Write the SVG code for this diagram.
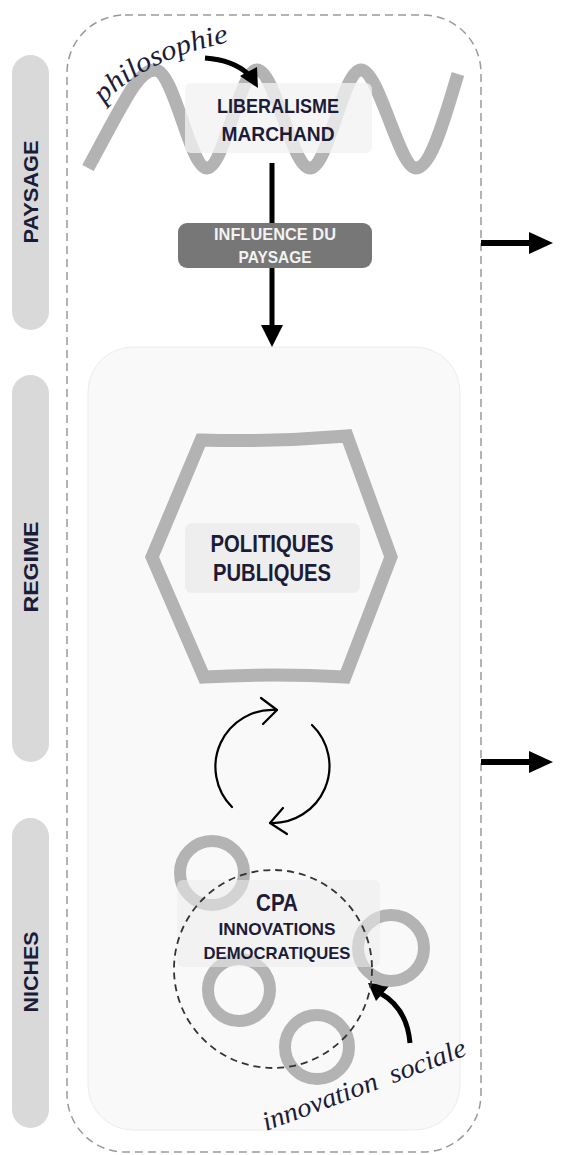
<svg xmlns="http://www.w3.org/2000/svg" width="577" height="1155" viewBox="0 0 577 1155">
<style>
.lbl{font-family:"Liberation Sans",Arial,sans-serif;font-weight:bold;fill:#1c1c38;text-anchor:middle}
.pill{fill:#d9d9d9}
.hand{font-family:"Liberation Serif","Times New Roman",serif;font-style:italic;fill:#1c1c38}
.gray{fill:none;stroke:#b3b3b3;stroke-width:13}
.ring{fill:none;stroke:#b3b3b3;stroke-width:12}
.thick{fill:none;stroke:#000;stroke-width:5}
.thin{fill:none;stroke:#000;stroke-width:2.2;stroke-linecap:round;stroke-linejoin:round}
</style>
<defs>
<path id="phPath" d="M104,104 Q146,56 242,40"/>
<path id="isPath" d="M266,1131 Q372,1092 488,1047"/>
</defs>
<rect width="577" height="1155" fill="#ffffff"/>
<g id="frame">
<rect x="67" y="15" width="414" height="1137" rx="58" fill="none" stroke="#9a9a9a" stroke-width="1.5" stroke-dasharray="8 5"/>
</g>
<g id="label-paysage">
<rect class="pill" x="12" y="55" width="37" height="275" rx="18.5"/>
<text class="lbl" transform="translate(38,192) rotate(-90)" font-size="21" textLength="103" lengthAdjust="spacingAndGlyphs">PAYSAGE</text>
</g>
<g id="label-regime">
<rect class="pill" x="12" y="375" width="37" height="387" rx="18.5"/>
<text class="lbl" transform="translate(38,567) rotate(-90)" font-size="21" textLength="91" lengthAdjust="spacingAndGlyphs">REGIME</text>
</g>
<g id="label-niches">
<rect class="pill" x="12" y="818" width="37" height="310" rx="18.5"/>
<text class="lbl" transform="translate(38,972) rotate(-90)" font-size="21" textLength="81" lengthAdjust="spacingAndGlyphs">NICHES</text>
</g>
<g id="regime-area">
<rect x="88" y="347" width="372" height="783" rx="45" fill="#f9f9f9" stroke="#ececec" stroke-width="1"/>
</g>
<g id="wave">
<path class="gray" d="M88,168 C125,100 138,70 155,70 C174,70 190,168 207,168 C224,168 240,70 257,70 C275,70 292,168 310,168 C328,168 343,70 361,70 C379,70 399,168 416,168 C432,168 446,112 458,74"/>
</g>
<g id="liberalisme">
<rect x="185" y="83" width="187" height="70" rx="6" fill="#f2f2f2" fill-opacity="0.78"/>
<text class="lbl" x="278" y="113" font-size="20" textLength="122" lengthAdjust="spacingAndGlyphs">LIBERALISME</text>
<text class="lbl" x="278" y="141" font-size="20" textLength="113" lengthAdjust="spacingAndGlyphs">MARCHAND</text>
</g>
<g id="philosophie">
<text class="hand" font-size="28"><textPath href="#phPath" textLength="142" lengthAdjust="spacingAndGlyphs">philosophie</textPath></text>
</g>
<g id="connectors">
<line x1="272" y1="163" x2="272" y2="328" stroke="#000" stroke-width="5"/>
<polygon points="261,325 283,325 272,347" fill="#000"/>
<path class="thick" d="M205,58 Q233,60 248,74"/>
<polygon points="240,76 257,67 258,88" fill="#000"/>
<path class="thick" d="M410,1043 Q407,1008 380,993"/>
<polygon points="368,983 390,985 376,1001" fill="#000"/>
<path class="thin" d="M232,807 A57,57 0 0 1 277,710"/>
<path class="thin" d="M261,698 L277,710 L263,724"/>
<path class="thin" d="M312,725 A57,57 0 0 1 270,823"/>
<path class="thin" d="M283,808 L270,823 L287,834"/>
<line x1="481" y1="243" x2="532" y2="243" stroke="#000" stroke-width="6"/>
<polygon points="529,232 553,243 529,254" fill="#000"/>
<line x1="481" y1="762" x2="532" y2="762" stroke="#000" stroke-width="6"/>
<polygon points="529,751 553,762 529,773" fill="#000"/>
</g>
<g id="influence">
<rect x="178" y="223" width="194" height="45" rx="9" fill="#777777"/>
<text class="lbl" x="275" y="240" font-size="16.5" style="fill:#f2f2f2" textLength="122" lengthAdjust="spacingAndGlyphs">INFLUENCE DU</text>
<text class="lbl" x="275" y="263" font-size="16.5" style="fill:#f2f2f2" textLength="73" lengthAdjust="spacingAndGlyphs">PAYSAGE</text>
</g>
<g id="politiques">
<path class="gray" stroke-linejoin="miter" d="M201,440 Q275,442 347,436 L391,557 L345,677 Q275,673 204,677 L152,557 Z"/>
<rect x="185" y="523" width="175" height="70" rx="7" fill="#eeeeee"/>
<text class="lbl" x="272" y="552" font-size="23" textLength="123" lengthAdjust="spacingAndGlyphs">POLITIQUES</text>
<text class="lbl" x="272" y="581" font-size="23" textLength="118" lengthAdjust="spacingAndGlyphs">PUBLIQUES</text>
</g>
<g id="niches">
<circle class="ring" cx="212" cy="873" r="32"/>
<circle class="ring" cx="239" cy="990" r="31"/>
<circle class="ring" cx="391" cy="948" r="33"/>
<circle class="ring" cx="317" cy="1047" r="32"/>
<rect x="177" y="880" width="203" height="87" rx="6" fill="#ececec" fill-opacity="0.55"/>
<circle cx="273" cy="969" r="99" fill="none" stroke="#333" stroke-width="1.8" stroke-dasharray="7 5"/>
<text class="lbl" x="277" y="911" font-size="23" font-weight="600" textLength="42" lengthAdjust="spacingAndGlyphs">CPA</text>
<text class="lbl" x="277" y="935" font-size="17" textLength="117" lengthAdjust="spacingAndGlyphs">INNOVATIONS</text>
<text class="lbl" x="277" y="959" font-size="17" textLength="147" lengthAdjust="spacingAndGlyphs">DEMOCRATIQUES</text>
</g>
<g id="innovation-sociale">
<text class="hand" font-size="27" xml:space="preserve"><textPath href="#isPath" textLength="216" lengthAdjust="spacingAndGlyphs">innovation  sociale</textPath></text>
</g>
</svg>
